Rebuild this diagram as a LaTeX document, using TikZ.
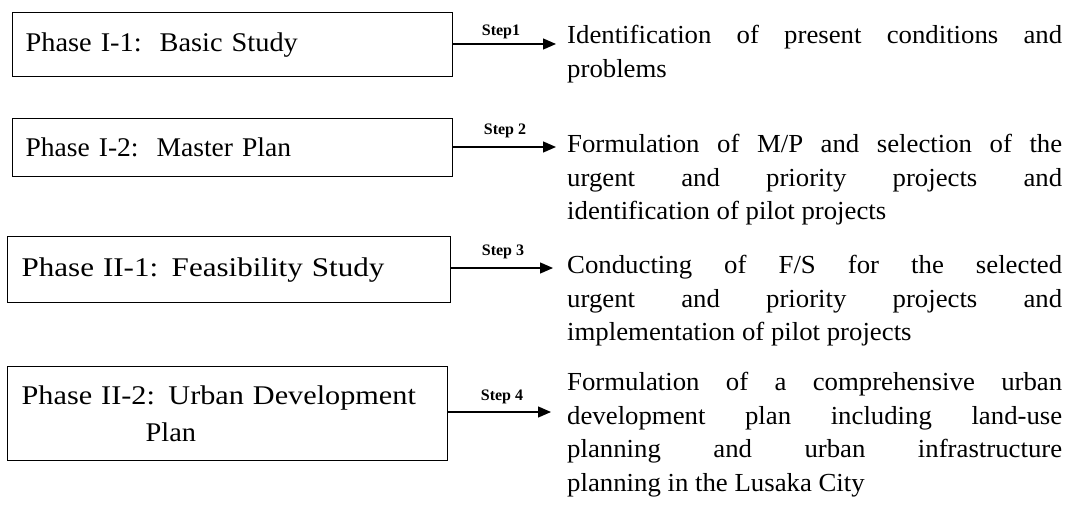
\documentclass[tikz,border=0pt]{standalone}
\usepackage{fontspec}
\setmainfont{Liberation Serif}
\newfontfamily\boxfont[FakeStretch=1.05]{Liberation Serif}
\newfontfamily\boxfontB[FakeStretch=1.02]{Liberation Serif}
\newfontfamily\boxfontC[FakeStretch=1.15]{Liberation Serif}
\newfontfamily\boxfontD[FakeStretch=1.12]{Liberation Serif}
\newfontfamily\descfont[FakeStretch=1.03]{Liberation Serif}
\usetikzlibrary{arrows.meta}
\tikzset{
  box/.style={draw, line width=1.3pt, rectangle, inner sep=0pt, align=left, anchor=north west,
    font=\boxfont\fontsize{27}{36}\selectfont},
  arr/.style={line width=1.3pt, -{Triangle[length=13pt,width=11pt]}},
  steplab/.style={font=\fontsize{16}{18}\selectfont\bfseries, inner sep=0pt},
  desc/.style={anchor=north west, inner sep=0pt, text width=495pt, align=justify,
    font=\descfont\fontsize{26}{33.7}\selectfont}
}
\begin{document}
\begin{tikzpicture}[x=1pt,y=-1pt]
\useasboundingbox (0,0) rectangle (1070,508);
% boxes
\node[box, minimum width=440pt, minimum height=64pt, text width=440pt] (p1) at (12,12) {\hspace*{13pt}Phase I-1:\ \ Basic Study};
\node[box, minimum width=440pt, minimum height=58pt, text width=440pt] (p2) at (12,118) {\hspace*{13pt}\boxfontB Phase I-2:\ \ Master Plan};
\node[box, minimum width=443pt, minimum height=66pt, text width=443pt] (p3) at (7,236) {\hspace*{14pt}\boxfontC Phase II-1: Feasibility Study};
\node[box, minimum width=440pt, minimum height=94pt, text width=440pt] (p4) at (7,366) {\hspace*{14pt}{\boxfontD Phase II-2: Urban Development}\\[1pt]\hspace*{138pt}Plan};
% arrow tips
\coordinate (e1) at (556,44);
\coordinate (e2) at (556,147);
\coordinate (e3) at (553,268);
\coordinate (e4) at (551,412);
\draw[arr] (p1.east |- e1) -- (e1);
\draw[arr] (p2.east |- e2) -- (e2);
\draw[arr] (p3.east |- e3) -- (e3);
\draw[arr] (p4.east |- e4) -- (e4);
\node[steplab] (s1) at (501,32) {Step1};
\node[steplab] (s2) at (505,131) {Step 2};
\node[steplab] (s3) at (503,252) {Step 3};
\node[steplab] (s4) at (502,397) {Step 4};
% descriptions
\node[desc] (t1) at (567,25) {Identification of present conditions and\linebreak problems};
\node[desc] (t2) at (567,134) {Formulation of M/P and selection of the\linebreak urgent and priority projects and\linebreak identification of pilot projects};
\node[desc] (t3) at (567,255) {Conducting of F/S for the selected\linebreak urgent and priority projects and\linebreak implementation of pilot projects};
\node[desc] (t4) at (567,372) {Formulation of a comprehensive urban\linebreak development plan including land-use\linebreak planning and urban infrastructure\linebreak planning in the Lusaka City};
\end{tikzpicture}
\end{document}
